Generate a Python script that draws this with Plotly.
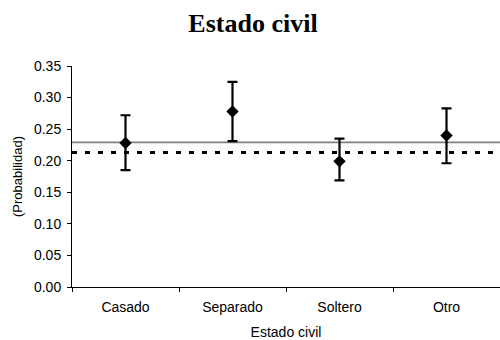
import plotly.graph_objects as go

# Probabilidad estimada por estado civil, con su intervalo
categorias = ["Casado", "Separado", "Soltero", "Otro"]
probabilidad = [0.228, 0.278, 0.199, 0.240]
limite_superior = [0.272, 0.325, 0.235, 0.283]
limite_inferior = [0.185, 0.231, 0.169, 0.196]

# Líneas de referencia horizontales
referencia_solida = 0.229
referencia_punteada = 0.213

err_plus = [u - p for u, p in zip(limite_superior, probabilidad)]
err_minus = [p - l for p, l in zip(probabilidad, limite_inferior)]

fig = go.Figure()

fig.add_trace(go.Scatter(
    x=categorias,
    y=probabilidad,
    mode="markers",
    marker=dict(symbol="diamond", size=9.5, color="black"),
    error_y=dict(
        type="data",
        symmetric=False,
        array=err_plus,
        arrayminus=err_minus,
        color="black",
        thickness=2.2,
        width=5,
    ),
    showlegend=False,
))

fig.add_shape(type="line", xref="paper", yref="y",
              x0=0, x1=1, y0=referencia_solida, y1=referencia_solida,
              line=dict(color="#7f7f7f", width=1.6), layer="below")
fig.add_shape(type="line", xref="paper", yref="y",
              x0=0, x1=1, y0=referencia_punteada, y1=referencia_punteada,
              line=dict(color="black", width=2.8, dash="5px,8px"), layer="below")

fig.update_layout(
    width=500,
    height=340,
    margin=dict(l=72, r=0, t=66, b=53),
    paper_bgcolor="white",
    plot_bgcolor="white",
    font=dict(family="Liberation Sans, Arial, sans-serif", size=14, color="black"),
    title=dict(
        text="<b>Estado civil</b>",
        font=dict(family="Liberation Serif, Times New Roman, serif", size=26, color="black"),
        x=0.506, xanchor="center",
        y=0.932, yanchor="middle",
    ),
    xaxis=dict(
        type="category",
        range=[-0.5, 3.5],
        tickson="boundaries",
        ticks="outside",
        ticklen=4,
        tickcolor="black",
        ticklabelstandoff=7,
        showline=True,
        linecolor="black",
        linewidth=1,
        showgrid=False,
        zeroline=False,
        tickfont=dict(size=14),
        title=dict(text="Estado civil", font=dict(size=14), standoff=13),
    ),
    yaxis=dict(
        range=[0, 0.35],
        dtick=0.05,
        tickformat=".2f",
        ticks="outside",
        ticklen=4,
        tickcolor="black",
        ticklabelstandoff=3,
        showline=True,
        linecolor="black",
        linewidth=1,
        showgrid=False,
        zeroline=False,
        tickfont=dict(size=14),
        title=dict(text="(Probabilidad)", font=dict(size=13), standoff=8),
    ),
)

fig.write_html("out.html")
